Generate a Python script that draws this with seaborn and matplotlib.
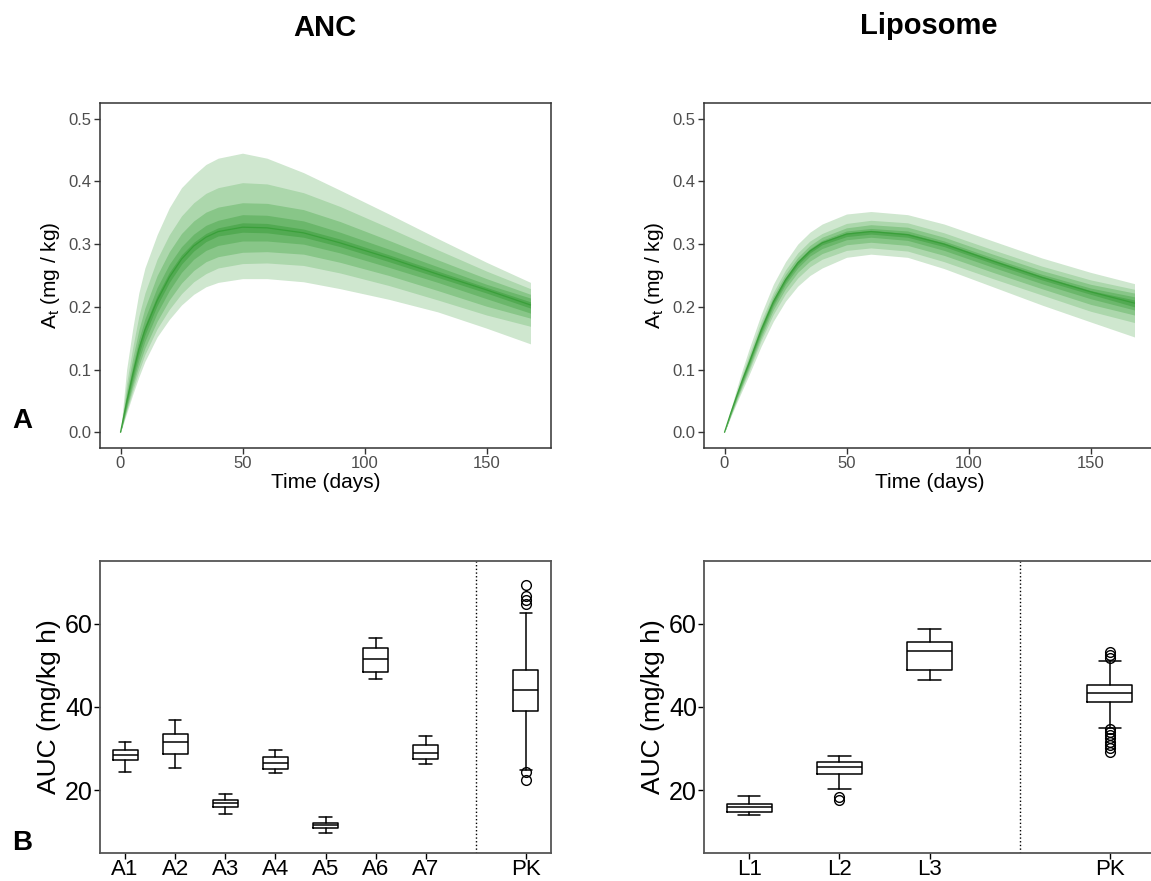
import matplotlib
matplotlib.use('Agg')
import matplotlib.pyplot as plt
import seaborn as sns

# Time grid (days) for the simulated amount curves
time_days = [0, 2.5, 5, 7.5, 10, 15, 20, 25, 30, 35, 40, 50, 60, 75, 90, 110, 130, 150, 168]

# ANC: percentile bands of A_t (mg/kg), outermost to innermost, plus median
anc_outer_hi = [0, 0.1, 0.165, 0.222, 0.262, 0.315, 0.358, 0.39, 0.41, 0.427, 0.437, 0.445, 0.437, 0.414, 0.386, 0.348, 0.309, 0.271, 0.239]
anc_b2_hi = [0, 0.078, 0.135, 0.185, 0.222, 0.276, 0.315, 0.345, 0.366, 0.381, 0.39, 0.398, 0.396, 0.382, 0.36, 0.326, 0.291, 0.257, 0.229]
anc_b3_hi = [0, 0.066, 0.118, 0.163, 0.198, 0.25, 0.288, 0.317, 0.337, 0.351, 0.359, 0.366, 0.365, 0.355, 0.336, 0.306, 0.275, 0.245, 0.22]
anc_b4_hi = [0, 0.058, 0.106, 0.148, 0.181, 0.231, 0.268, 0.296, 0.316, 0.33, 0.338, 0.347, 0.346, 0.337, 0.319, 0.292, 0.264, 0.236, 0.214]
anc_b5_hi = [0, 0.052, 0.098, 0.139, 0.17, 0.218, 0.255, 0.283, 0.303, 0.317, 0.326, 0.334, 0.333, 0.324, 0.308, 0.283, 0.257, 0.231, 0.208]
anc_median = [0, 0.048, 0.092, 0.132, 0.163, 0.21, 0.247, 0.276, 0.297, 0.311, 0.32, 0.327, 0.326, 0.318, 0.302, 0.278, 0.252, 0.227, 0.203]
anc_b5_lo = [0, 0.044, 0.086, 0.124, 0.155, 0.202, 0.239, 0.268, 0.289, 0.304, 0.313, 0.319, 0.318, 0.311, 0.296, 0.272, 0.247, 0.222, 0.198]
anc_b4_lo = [0, 0.04, 0.079, 0.115, 0.145, 0.19, 0.226, 0.255, 0.276, 0.29, 0.298, 0.305, 0.305, 0.3, 0.286, 0.263, 0.239, 0.213, 0.19]
anc_b3_lo = [0, 0.037, 0.073, 0.106, 0.134, 0.177, 0.211, 0.238, 0.258, 0.272, 0.28, 0.287, 0.288, 0.284, 0.271, 0.25, 0.226, 0.201, 0.182]
anc_b2_lo = [0, 0.034, 0.066, 0.097, 0.124, 0.165, 0.196, 0.221, 0.24, 0.253, 0.262, 0.269, 0.27, 0.266, 0.254, 0.234, 0.211, 0.187, 0.169]
anc_outer_lo = [0, 0.03, 0.06, 0.088, 0.113, 0.152, 0.18, 0.203, 0.22, 0.232, 0.239, 0.245, 0.245, 0.24, 0.229, 0.212, 0.192, 0.166, 0.141]

# Liposome
lip_outer_hi = [0, 0.036, 0.07, 0.102, 0.132, 0.188, 0.236, 0.272, 0.3, 0.319, 0.332, 0.348, 0.352, 0.347, 0.332, 0.305, 0.278, 0.255, 0.237]
lip_b2_hi = [0, 0.033, 0.065, 0.095, 0.123, 0.177, 0.223, 0.259, 0.286, 0.305, 0.317, 0.333, 0.338, 0.334, 0.318, 0.291, 0.265, 0.243, 0.228]
lip_b3_hi = [0, 0.032, 0.062, 0.091, 0.118, 0.171, 0.217, 0.252, 0.279, 0.298, 0.311, 0.326, 0.331, 0.327, 0.311, 0.284, 0.258, 0.236, 0.222]
lip_b4_hi = [0, 0.031, 0.06, 0.088, 0.114, 0.167, 0.212, 0.247, 0.274, 0.293, 0.306, 0.321, 0.325, 0.321, 0.305, 0.278, 0.252, 0.23, 0.216]
lip_b5_hi = [0, 0.03, 0.059, 0.086, 0.112, 0.165, 0.21, 0.245, 0.272, 0.291, 0.304, 0.318, 0.322, 0.317, 0.302, 0.275, 0.249, 0.226, 0.211]
lip_median = [0, 0.03, 0.058, 0.085, 0.11, 0.163, 0.208, 0.243, 0.27, 0.289, 0.302, 0.316, 0.32, 0.315, 0.3, 0.273, 0.247, 0.224, 0.206]
lip_b5_lo = [0, 0.029, 0.057, 0.083, 0.108, 0.16, 0.205, 0.24, 0.267, 0.286, 0.299, 0.312, 0.316, 0.311, 0.296, 0.269, 0.243, 0.22, 0.2]
lip_b4_lo = [0, 0.028, 0.055, 0.08, 0.105, 0.156, 0.201, 0.236, 0.262, 0.281, 0.293, 0.307, 0.311, 0.306, 0.29, 0.263, 0.237, 0.213, 0.195]
lip_b3_lo = [0, 0.027, 0.053, 0.077, 0.101, 0.151, 0.195, 0.229, 0.255, 0.273, 0.285, 0.299, 0.303, 0.298, 0.282, 0.255, 0.229, 0.204, 0.187]
lip_b2_lo = [0, 0.026, 0.05, 0.074, 0.097, 0.146, 0.188, 0.221, 0.246, 0.264, 0.276, 0.29, 0.294, 0.289, 0.272, 0.245, 0.219, 0.193, 0.175]
lip_outer_lo = [0, 0.024, 0.047, 0.069, 0.091, 0.137, 0.177, 0.209, 0.233, 0.25, 0.262, 0.279, 0.284, 0.279, 0.261, 0.232, 0.203, 0.176, 0.152]

# AUC (mg/kg h) box summaries: whislo, q1, med, q3, whishi, fliers
anc_groups = ['A1', 'A2', 'A3', 'A4', 'A5', 'A6', 'A7', 'PK']
anc_whislo = [24.4, 25.3, 14.4, 24.1, 9.9, 46.7, 26.4, 24.8]
anc_q1 = [27.3, 28.8, 16.0, 25.2, 10.9, 48.4, 27.5, 39.1]
anc_med = [28.4, 31.6, 16.9, 26.6, 11.6, 51.4, 28.9, 44.0]
anc_q3 = [29.7, 33.6, 17.8, 28.1, 12.3, 54.2, 30.9, 48.8]
anc_whishi = [31.6, 36.8, 19.2, 29.8, 13.6, 56.5, 33.1, 62.5]
anc_pk_fliers = [69.2, 66.6, 65.6, 64.6, 24.5, 22.4]

lip_groups = ['L1', 'L2', 'L3', 'PK']
lip_whislo = [14.0, 20.4, 46.4, 35.0]
lip_q1 = [14.9, 24.0, 48.9, 41.2]
lip_med = [16.0, 25.5, 53.4, 43.4]
lip_q3 = [16.8, 26.9, 55.5, 45.2]
lip_whishi = [18.7, 28.2, 58.6, 51.0]
lip_l2_fliers = [18.4, 17.6]
lip_pk_fliers = [53.1, 52.5, 51.8, 34.7, 34.0, 33.3, 32.5, 31.7, 30.9, 30.1, 29.3]

band_colors = ['#CFE7CF', '#ACD7AC', '#88C688', '#6BB76B', '#52AA52']
median_color = '#3A9F3A'

sns.set_theme(style='white')
plt.rcParams['font.family'] = ['Liberation Sans', 'DejaVu Sans']
plt.rcParams['mathtext.default'] = 'regular'
plt.rcParams['text.color'] = 'black'
plt.rcParams['axes.labelcolor'] = 'black'

fig = plt.figure(figsize=(11.51, 8.81), dpi=100)
W, H = 1151, 881


def box(x0, y0, x1, y1):
    return [x0 / W, 1 - y1 / H, (x1 - x0) / W, (y1 - y0) / H]


def draw_ribbon(ax, bands, median):
    for (lo, hi), col in zip(bands, band_colors):
        ax.fill_between(time_days, lo, hi, color=col, linewidth=0)
    sns.lineplot(x=time_days, y=median, ax=ax, color=median_color, linewidth=0.9)
    ax.set_xlim(-8.4, 176.4)
    ax.set_ylim(-0.025, 0.525)
    ax.set_xticks([0, 50, 100, 150])
    ax.set_yticks([0.0, 0.1, 0.2, 0.3, 0.4, 0.5])
    ax.set_yticklabels(['0.0', '0.1', '0.2', '0.3', '0.4', '0.5'])
    ax.set_xlabel('Time (days)', fontsize=15, labelpad=1)
    ax.set_ylabel(r'A$_t$ (mg / kg)', fontsize=15, labelpad=5)
    ax.tick_params(axis='both', labelsize=12, labelcolor='#4D4D4D', color='#333333',
                   length=4, width=1, direction='out', bottom=True, left=True, pad=2)
    for s in ax.spines.values():
        s.set_color('#333333')
        s.set_linewidth(1.1)


def draw_boxes(ax, groups, whislo, q1, med, q3, whishi, fliers, positions, vline, xlim):
    stats = []
    for i, g in enumerate(groups):
        stats.append(dict(label=g, whislo=whislo[i], q1=q1[i], med=med[i],
                          q3=q3[i], whishi=whishi[i], fliers=fliers.get(g, [])))
    lp = dict(color='black', linewidth=1.1)
    ax.bxp(stats, positions=positions, widths=0.5, patch_artist=False,
           boxprops=lp, whiskerprops=lp, capprops=lp, medianprops=lp,
           flierprops=dict(marker='o', markerfacecolor='none', markeredgecolor='black',
                           markersize=7, markeredgewidth=1))
    ax.axvline(vline, color='black', linestyle=':', linewidth=1)
    ax.set_xlim(*xlim)
    ax.set_ylim(5, 75)
    ax.set_yticks([20, 40, 60])
    ax.set_xticks(positions)
    ax.set_xticklabels(groups)
    ax.set_ylabel('AUC (mg/kg h)', fontsize=19, labelpad=3)
    ax.tick_params(axis='both', labelcolor='black', color='black',
                   length=4, width=1, direction='out', bottom=True, left=True)
    ax.tick_params(axis='y', labelsize=18, pad=1)
    ax.tick_params(axis='x', labelsize=16, pad=0)
    for s in ax.spines.values():
        s.set_color('#555555')
        s.set_linewidth(1.3)


ax_a1 = fig.add_axes(box(100, 103, 551, 448))
draw_ribbon(ax_a1, [(anc_outer_lo, anc_outer_hi), (anc_b2_lo, anc_b2_hi), (anc_b3_lo, anc_b3_hi),
                    (anc_b4_lo, anc_b4_hi), (anc_b5_lo, anc_b5_hi)], anc_median)

ax_a2 = fig.add_axes(box(704, 103, 1155, 448))
draw_ribbon(ax_a2, [(lip_outer_lo, lip_outer_hi), (lip_b2_lo, lip_b2_hi), (lip_b3_lo, lip_b3_hi),
                    (lip_b4_lo, lip_b4_hi), (lip_b5_lo, lip_b5_hi)], lip_median)

ax_b1 = fig.add_axes(box(100, 561, 551, 853))
draw_boxes(ax_b1, anc_groups, anc_whislo, anc_q1, anc_med, anc_q3, anc_whishi,
           {'PK': anc_pk_fliers}, [1, 2, 3, 4, 5, 6, 7, 9], 8, (0.5, 9.5))

ax_b2 = fig.add_axes(box(704, 561, 1155, 853))
draw_boxes(ax_b2, lip_groups, lip_whislo, lip_q1, lip_med, lip_q3, lip_whishi,
           {'L2': lip_l2_fliers, 'PK': lip_pk_fliers}, [1, 2, 3, 5], 4, (0.5, 5.5))

# column titles and panel letters
fig.text(325 / W, 1 - 28 / H, 'ANC', ha='center', va='center', fontsize=21, fontweight='bold')
fig.text(929 / W, 1 - 26 / H, 'Liposome', ha='center', va='center', fontsize=21, fontweight='bold')
fig.text(22 / W, 1 - 421 / H, 'A', ha='center', va='center', fontsize=20, fontweight='bold')
fig.text(22 / W, 1 - 843 / H, 'B', ha='center', va='center', fontsize=20, fontweight='bold')

fig.savefig('out.png', dpi=100)
